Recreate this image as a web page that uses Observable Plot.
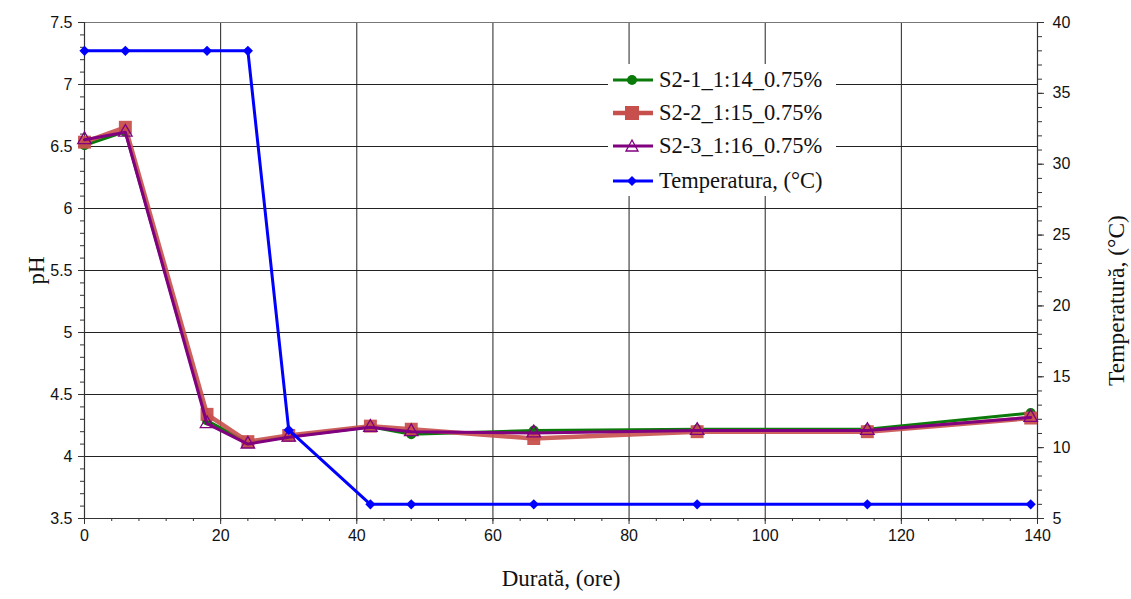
<!DOCTYPE html>
<html>
<head>
<meta charset="utf-8">
<script src="https://cdn.jsdelivr.net/npm/d3@7"></script>
<script src="https://cdn.jsdelivr.net/npm/@observablehq/plot@0.6"></script>
<style>
  html, body { margin: 0; padding: 0; background: #fff; }
  #wrap { position: relative; width: 1131px; height: 599px; }
  #legend { position: absolute; left: 608px; top: 64px; width: 228px; height: 132px; background: #fff;
            font-family: "Liberation Serif", "Times New Roman", serif; font-size: 22.5px; color: #111; }
  .row { position: absolute; left: 2px; height: 24px; display: flex; align-items: center; }
  .row svg { display: block; flex: none; }
  .row span { margin-left: 3px; white-space: nowrap; line-height: 24px; }
</style>
</head>
<body>
<div id="wrap"><div id="chart"></div><div id="legend"></div></div>
<script>
// ---- data ----
const hours = [0, 6, 18, 24, 30, 42, 48, 66, 90, 115, 139];
const s21   = [6.51, 6.62, 4.29, 4.11, 4.16, 4.24, 4.18, 4.21, 4.22, 4.22, 4.35];
const s22   = [6.535, 6.655, 4.34, 4.12, 4.17, 4.245, 4.22, 4.145, 4.20, 4.20, 4.31];
const s23   = [6.555, 6.615, 4.265, 4.10, 4.155, 4.235, 4.20, 4.19, 4.21, 4.21, 4.315];
const temperature = [38, 38, 38, 38, 11.25, 6, 6, 6, 6, 6, 6];

const seriesNames = ["S2-1_1:14_0.75%", "S2-2_1:15_0.75%", "S2-3_1:16_0.75%", "Temperatura, (°C)"];
const xTicks = [0, 20, 40, 60, 80, 100, 120, 140];
const xMinor = d3.range(0, 141, 4);
const phTicks = [3.5, 4, 4.5, 5, 5.5, 6, 6.5, 7, 7.5];
const phMinor = d3.range(35, 76, 1).map(v => v / 10);
const tempTicks = [5, 10, 15, 20, 25, 30, 35, 40];
const tempMinor = d3.range(5, 41, 1);
const xLabel = "Durată, (ore)";
const yLabel = "pH";
const y2Label = "Temperatură, (°C)";

// temperature (5..40) mapped onto pH scale (3.5..7.5)
const toPH = t => 3.5 + (t - 5) * 4 / 35;
const fromPH = p => 5 + (p - 3.5) * 35 / 4;

const mk = (ys) => hours.map((h, i) => ({x: h, y: ys[i]}));
const d1 = mk(s21), d2 = mk(s22), d3s = mk(s23);
const dT = hours.map((h, i) => ({x: h, y: toPH(temperature[i])}));

const colors = ["#0a7a0a", "#c8504c", "#800080", "#0000ff"];
const serif = "Liberation Serif, Times New Roman, serif";

const chart = Plot.plot({
  width: 1131, height: 599,
  marginLeft: 84, marginRight: 94, marginTop: 22, marginBottom: 81,
  style: {fontFamily: "Liberation Sans, Arial, sans-serif", fontSize: "16px", color: "#111", background: "#fff"},
  x: {domain: [0, 140]},
  y: {domain: [3.5, 7.5]},
  marks: [
    Plot.ruleX(xTicks, {stroke: "#222", strokeWidth: 1}),
    Plot.ruleY(phTicks, {stroke: "#222", strokeWidth: 1}),
    Plot.ruleY([7.5], {stroke: "#777", strokeWidth: 1.2}),
    Plot.ruleX([0, 140], {stroke: "#333", strokeWidth: 1.2}),
    Plot.ruleY([3.5], {stroke: "#333", strokeWidth: 1.2}),
    // minor ticks
    Plot.axisX(xMinor, {tickSize: 3, tickFormat: () => "", label: null, stroke: "#333"}),
    Plot.axisY(phMinor, {tickSize: 4, tickFormat: () => "", label: null, stroke: "#333"}),
    Plot.axisY(tempMinor.map(toPH), {anchor: "right", tickSize: 4, tickFormat: () => "", label: null, stroke: "#333"}),
    // major ticks + labels
    Plot.axisX(xTicks, {tickSize: 6, tickPadding: 5, label: null, stroke: "#333"}),
    Plot.axisY(phTicks, {tickSize: 6, tickPadding: 6, label: null, stroke: "#333",
      tickFormat: d => String(d)}),
    Plot.axisY(tempTicks.map(toPH), {anchor: "right", tickSize: 6, tickPadding: 9, label: null, stroke: "#333",
      tickFormat: d => String(Math.round(fromPH(d)))}),
    // titles
    Plot.text([yLabel], {text: d => d, frameAnchor: "left", textAnchor: "middle", dx: -48, rotate: -90,
      fontFamily: serif, fontSize: 23, fill: "#111"}),
    Plot.text([y2Label], {text: d => d, frameAnchor: "right", textAnchor: "middle", dx: 79, dy: 30, rotate: -90,
      fontFamily: serif, fontSize: 23.5, fill: "#111"}),
    Plot.text([xLabel], {text: d => d, frameAnchor: "bottom", textAnchor: "middle", dy: 67,
      fontFamily: serif, fontSize: 23, fill: "#111"}),
    // series
    Plot.line(d1, {x: "x", y: "y", stroke: colors[0], strokeWidth: 3}),
    Plot.dot(d1, {x: "x", y: "y", symbol: "circle", r: 5, fill: colors[0], stroke: "none"}),
    Plot.line(d2, {x: "x", y: "y", stroke: colors[1], strokeWidth: 4.5, strokeOpacity: 0.9}),
    Plot.dot(d2, {x: "x", y: "y", symbol: "square", r: 7.3, fill: colors[1], fillOpacity: 0.95, stroke: "none"}),
    Plot.line(d3s, {x: "x", y: "y", stroke: colors[2], strokeWidth: 3}),
    Plot.dot(d3s, {x: "x", y: "y", symbol: "triangle", r: 5, fill: "none", stroke: colors[2], strokeWidth: 1.3}),
    Plot.line(dT, {x: "x", y: "y", stroke: colors[3], strokeWidth: 3}),
    Plot.dot(dT, {x: "x", y: "y", symbol: "diamond2", r: 4.6, fill: colors[3], stroke: "none"})
  ]
});
document.getElementById("chart").appendChild(chart);

// legend
const legend = document.getElementById("legend");
const rowsY = [4, 37, 70, 105];
const symbols = [
  c => `<circle cx="22" cy="12" r="5" fill="${c}"/>`,
  c => `<rect x="15" y="5" width="14" height="14" fill="${c}"/>`,
  c => `<path d="M22,6 L28,17 L16,17 Z" fill="none" stroke="${c}" stroke-width="1.3"/>`,
  c => `<path d="M22,7 L27,12 L22,17 L17,12 Z" fill="${c}"/>`
];
const widths = [3, 4.5, 3, 3];
seriesNames.forEach((name, i) => {
  const row = document.createElement("div");
  row.className = "row";
  row.style.top = rowsY[i] + "px";
  row.innerHTML = `<svg width="46" height="24"><line x1="3" x2="43" y1="12" y2="12" stroke="${colors[i]}" stroke-width="${widths[i]}"/>${symbols[i](colors[i])}</svg><span>${name}</span>`;
  legend.appendChild(row);
});
</script>
</body>
</html>
